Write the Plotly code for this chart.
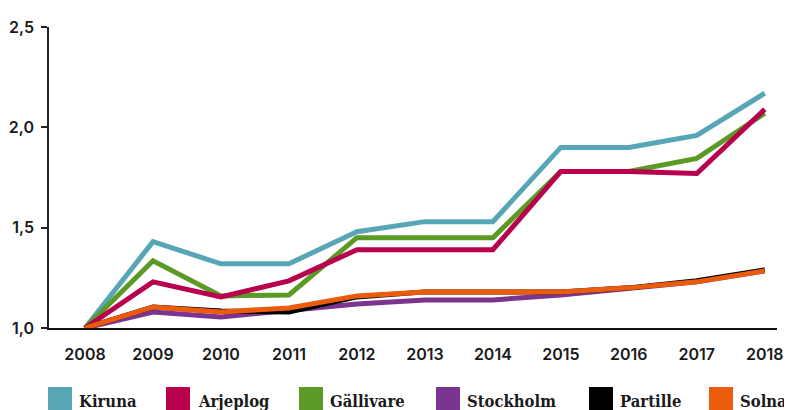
import plotly.graph_objects as go

years = [2008, 2009, 2010, 2011, 2012, 2013, 2014, 2015, 2016, 2017, 2018]

kiruna    = [1.00, 1.43, 1.32, 1.32, 1.48, 1.53, 1.53, 1.90, 1.90, 1.96, 2.17]
arjeplog  = [1.00, 1.23, 1.155, 1.235, 1.39, 1.39, 1.39, 1.78, 1.78, 1.77, 2.09]
gallivare = [1.00, 1.335, 1.16, 1.165, 1.45, 1.45, 1.45, 1.78, 1.78, 1.845, 2.07]
stockholm = [1.00, 1.08, 1.055, 1.09, 1.12, 1.14, 1.14, 1.165, 1.20, 1.23, 1.285]
partille  = [1.00, 1.105, 1.085, 1.08, 1.155, 1.18, 1.18, 1.18, 1.20, 1.235, 1.29]
solna     = [1.00, 1.105, 1.08, 1.10, 1.16, 1.18, 1.18, 1.18, 1.20, 1.23, 1.285]

y_ticks = [1.0, 1.5, 2.0, 2.5]

series = [
    ("Kiruna", kiruna, "#56a6b5"),
    ("Gällivare", gallivare, "#5b9a25"),
    ("Arjeplog", arjeplog, "#b8004f"),
    ("Stockholm", stockholm, "#7b3590"),
    ("Partille", partille, "#000000"),
    ("Solna", solna, "#ea5b0c"),
]
legend_order = ["Kiruna", "Arjeplog", "Gällivare", "Stockholm", "Partille", "Solna"]
colors = {n: c for n, _, c in series}

fig = go.Figure()
for name, vals, col in series:
    fig.add_trace(go.Scatter(x=years, y=vals, name=name, mode="lines",
                             line=dict(color=col, width=5), showlegend=False))

# page places the figure div at (8, 8) because of the default body margin
OFF = 8
FW, FH = 792 - OFF, 410 - OFF
# plot area in page pixels
L, R, T, B = 49, 777, 27, 328
W, H = R - L, B - T
def px(x):
    return (x - L) / W
def py(y):
    return (B - y) / H

sq_x = [48, 166, 299, 436, 589, 709]
txt_x = [78, 197, 329, 466, 619, 739]
shapes = []
annotations = []
for name, sx, tx in zip(legend_order, sq_x, txt_x):
    shapes.append(dict(type="rect", xref="paper", yref="paper",
                       x0=px(sx), x1=px(sx + 24), y0=py(387), y1=py(412),
                       fillcolor=colors[name], line=dict(width=0)))
    annotations.append(dict(text="<b>" + name + "</b>", xref="paper", yref="paper",
                            x=px(tx), y=py(401), xanchor="left", yanchor="middle",
                            showarrow=False, borderpad=0,
                            font=dict(family="DejaVu Serif Condensed, DejaVu Serif",
                                      size=16.5, color="#1a1a1a")))

tickfont = dict(family="Inter", size=16, weight=600, color="#1a1a1a")

fig.update_layout(
    width=FW, height=FH,
    margin=dict(l=L - OFF, r=792 - R, t=T - OFF, b=410 - B, autoexpand=False),
    plot_bgcolor="white", paper_bgcolor="white",
    separators=", ",
    showlegend=False,
    shapes=shapes,
    annotations=annotations,
    font=dict(family="Inter", size=16, color="#1a1a1a"),
    xaxis=dict(range=[2007.47, 2018.18], tickmode="array", tickvals=years,
               ticktext=[str(y) for y in years], showgrid=False, zeroline=False,
               showline=True, linecolor="#111111", linewidth=2, automargin=False,
               ticks="outside", ticklen=0, ticklabelstandoff=11,
               tickfont=tickfont),
    yaxis=dict(range=[1.0, 2.5], tickvals=y_ticks, tickformat=".1f",
               showgrid=False, zeroline=False, showline=True, automargin=False,
               linecolor="#222222", linewidth=1.5, ticks="outside", ticklen=6,
               tickcolor="#222222", tickwidth=1.5, ticklabelstandoff=4,
               tickfont=tickfont),
)

fig.write_html("out.html")
